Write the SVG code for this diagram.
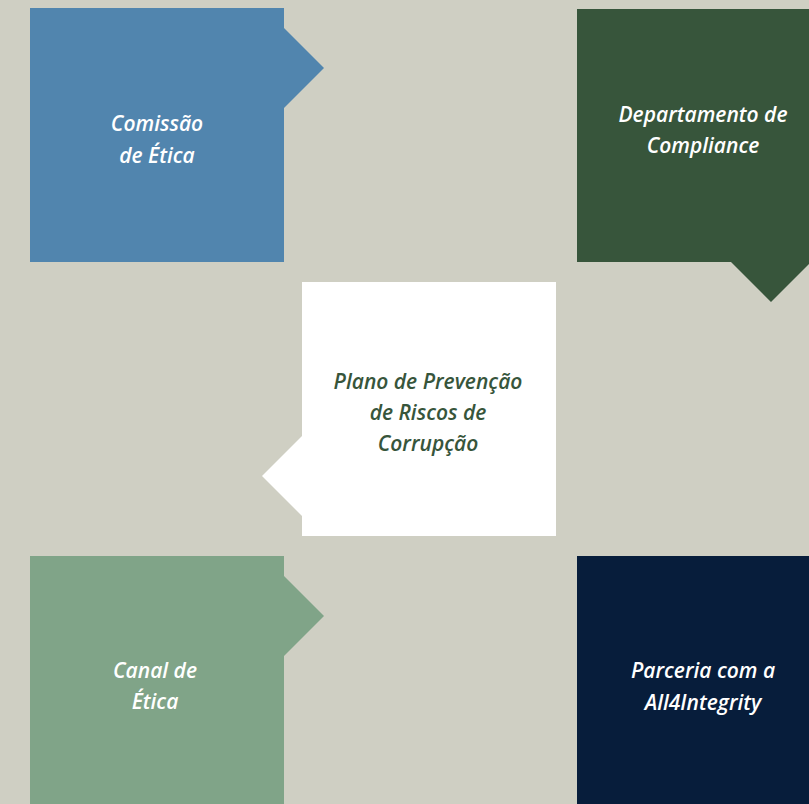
<svg xmlns="http://www.w3.org/2000/svg" width="809" height="804" viewBox="0 0 809 804">
  <style>
    .lbl { font-family: "Open Sans", "Noto Sans", "Liberation Sans", sans-serif; font-style: italic; font-weight: 600; font-size: 21px; text-anchor: middle; }
    .w { fill: #FFFFFF; }
    .g { fill: #37553B; }
  </style>
  <rect x="0" y="0" width="809" height="804" fill="#CFCFC3"/>
  <g id="comissao-etica">
    <path d="M30 8 H284 V28 L324 68 L284 108 V262 H30 Z" fill="#5185AE"/>
    <text class="lbl w" x="157" y="131">Comissão</text>
    <text class="lbl w" x="157" y="163">de Ética</text>
  </g>
  <g id="departamento-compliance">
    <path d="M577 9 H831 V262 H811 L771 302 L731 262 H577 Z" fill="#37553B"/>
    <text class="lbl w" x="703" y="122">Departamento de</text>
    <text class="lbl w" x="703" y="153">Compliance</text>
  </g>
  <g id="plano-prevencao">
    <path d="M302 282 H556 V536 H302 V516 L262 476 L302 436 Z" fill="#FFFFFF"/>
    <text class="lbl g" x="428" y="389">Plano de Prevenção</text>
    <text class="lbl g" x="428" y="420">de Riscos de</text>
    <text class="lbl g" x="428" y="451">Corrupção</text>
  </g>
  <g id="canal-etica">
    <path d="M30 556 H284 V576 L324 616 L284 656 V810 H30 Z" fill="#80A488"/>
    <text class="lbl w" x="155" y="678">Canal de</text>
    <text class="lbl w" x="155" y="709">Ética</text>
  </g>
  <g id="parceria-all4integrity">
    <path d="M577 556 H831 V810 H577 Z" fill="#071D3B"/>
    <text class="lbl w" x="703" y="678">Parceria com a</text>
    <text class="lbl w" x="703" y="710">All4Integrity</text>
  </g>
  <g id="connectors"></g>
</svg>
